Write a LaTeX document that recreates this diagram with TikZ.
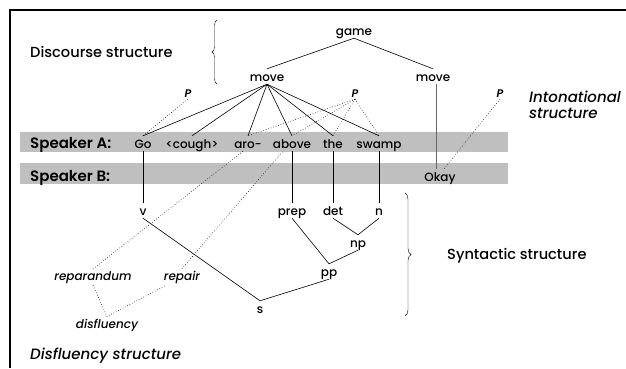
\documentclass[tikz,border=0pt]{standalone}
\usepackage{fontspec}
\setmainfont{Poppins}[UprightFont={Poppins Medium}, ItalicFont={Poppins Medium Italic}, BoldFont={Poppins SemiBold}, BoldItalicFont={Poppins SemiBold Italic}]
\usetikzlibrary{decorations.pathreplacing}

\definecolor{bandgray}{gray}{0.75}

\begin{document}
\begin{tikzpicture}[x=1pt,y=-1pt,
  every node/.style={inner sep=2pt},
  head/.style={font=\fontsize{14.6}{16}\selectfont, anchor=base west},
  ihead/.style={font=\itshape\fontsize{15}{17}\selectfont, anchor=base west},
  speaker/.style={font=\bfseries\fontsize{15}{17}\selectfont, anchor=base west},
  word/.style={font=\fontsize{12}{14}\selectfont, anchor=base, text height=10pt, text depth=1pt},
  disf/.style={font=\itshape\fontsize{12}{14}\selectfont, anchor=base},
  pros/.style={font=\bfseries\itshape\fontsize{11}{12}\selectfont, anchor=base},
  tree/.style={line width=0.6pt},
  proslink/.style={dotted, line width=0.6pt}]

\useasboundingbox (0,0) rectangle (626,368);

% draw frame
\draw[line width=2pt] (626,10) -- (10,10) -- (10,368);

% draw speaker bands
\fill[bandgray] (20,132) rectangle (508,152);
\fill[bandgray] (20,163) rectangle (508,184);

\node[speaker] (spkA) at (28,148) {Speaker A:};
\node[speaker] (spkB) at (28,181) {Speaker B:};

\node[word] (go)    at (143,148) {Go};
\node[word] (cough) at (192,148) {<cough>};
\node[word] (aro)   at (248,148) {aro-};
\node[word] (above) at (292,148) {above};
\node[word] (the)   at (333,148) {the};
\node[word] (swamp) at (379,148) {swamp};
\node[word] (okay)  at (440,181) {Okay};

% draw discourse structure
\node[word] (game)  at (354,35) {game};
\node[word] (moveL) at (267,81) {move};
\node[word] (moveR) at (433,81) {move};

\draw[tree] (game.south) -- (moveL.north);
\draw[tree] (game.south) -- (moveR.north);
\foreach \w in {go,cough,aro,above,the,swamp}
  \draw[tree] (moveL.south) -- (\w.north);
\draw[tree, black!60] ([xshift=3pt]moveR.south) -- ([xshift=3pt]moveR.south |- okay.north);

\draw[decorate, decoration={brace, amplitude=5pt}] (217,84) -- (217,20);
\node[head] (discourse) at (28,57) {Discourse structure};

% draw intonational structure
\node[pros] (pA) at (188,97) {P};
\node[pros] (pB) at (355,97) {P};
\node[pros] (pC) at (500,97) {P};

\draw[proslink] (pA.south) -- (go.north);
\foreach \w in {aro,above,the,swamp}
  \draw[proslink] (pB.south) -- (\w.north);
\draw[proslink] (pC.south) -- ([xshift=4pt]okay.north);

\node[ihead] (inton)  at (527,102) {Intonational};
\node[ihead] (inton2) at (527,118) {structure};

% draw syntactic structure
\node[word] (v)    at (143,215) {v};
\node[word] (prep) at (292,215) {prep};
\node[word] (det)  at (333,215) {det};
\node[word] (n)    at (379,215) {n};
\node[word] (np)   at (358,247) {np};
\node[word] (pp)   at (329,276) {pp};
\node[word] (s)    at (260,313) {s};

\draw[tree] (go.south) -- (v.north);
\draw[tree] (above.south) -- (prep.north);
\draw[tree] (the.south) -- (det.north);
\draw[tree] (swamp.south) -- (n.north);
\draw[tree] (det.south) -- (np.north) -- (n.south);
\draw[tree] (prep.south) -- (pp.north) -- (np.south);
\draw[tree] (v.south) -- (s.north) -- (pp.south);

\draw[decorate, decoration={brace, amplitude=6pt}] (405,193) -- (405,316);
\node[head] (syntactic) at (445,259) {Syntactic structure};

% draw disfluency structure
\node[disf] (reparandum) at (93,280) {reparandum};
\node[disf] (repair)     at (182,280) {repair};
\node[disf] (disfluency) at (107,328) {disfluency};

\draw[proslink] (reparandum.north) -- ([xshift=-5pt]aro.south);
\draw[proslink] (repair.north) -- ([xshift=-9pt]above.south);
\draw[proslink] (reparandum.south) -- (disfluency.north) -- ([xshift=4pt]repair.south west);

\node[ihead] (disfstruct) at (28,359) {Disfluency structure};

\end{tikzpicture}
\end{document}
